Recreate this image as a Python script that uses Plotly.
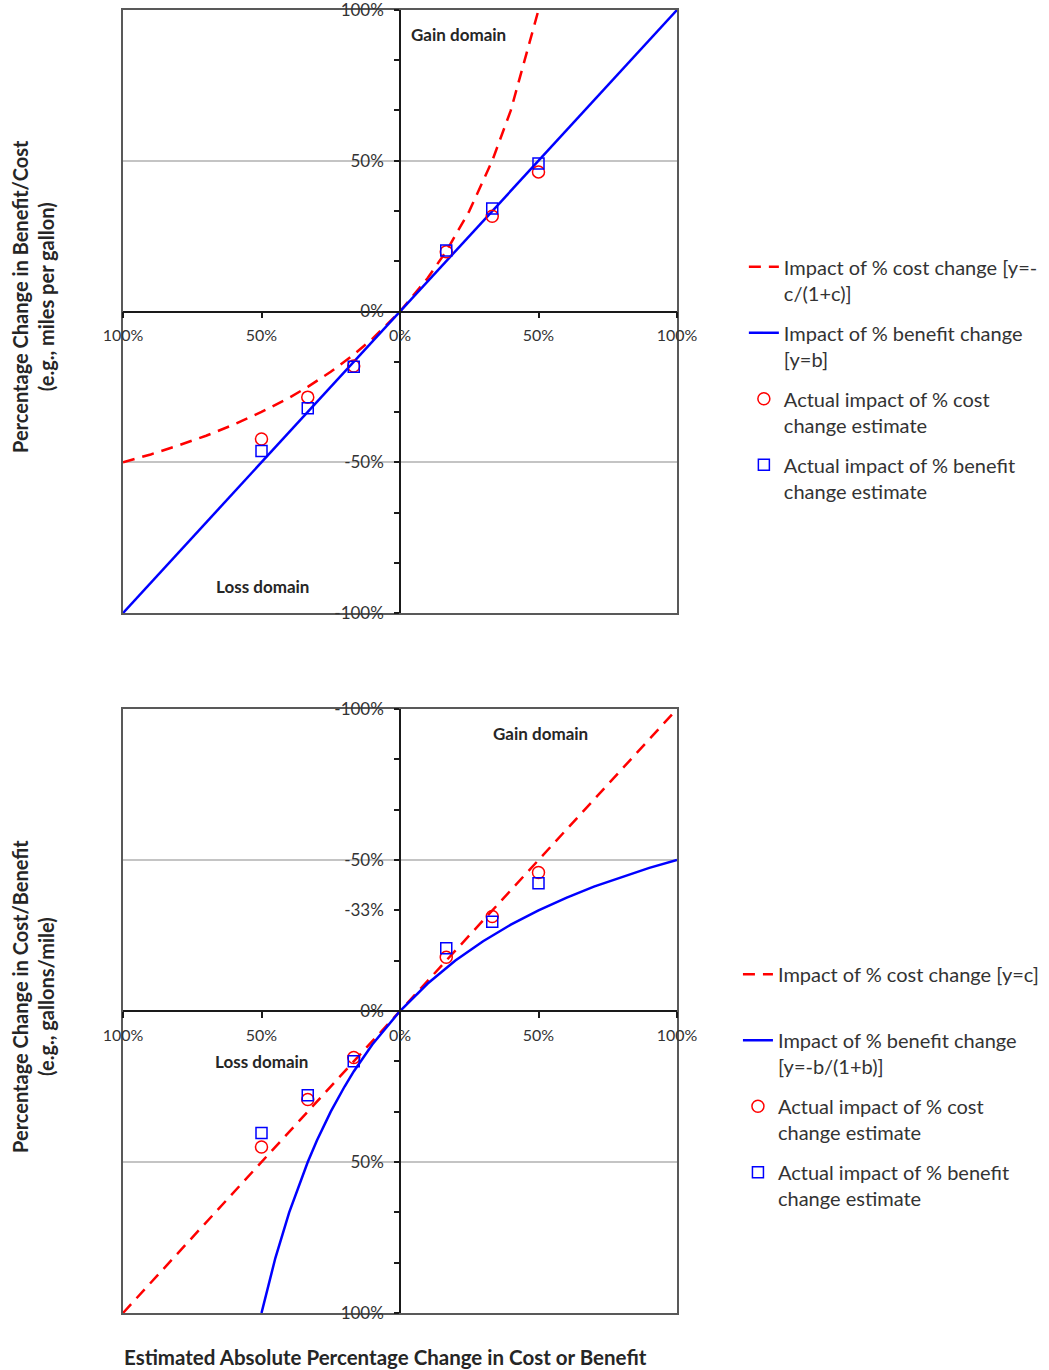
import plotly.graph_objects as go

# ---------------- data ----------------
x_tick_vals = [-1.0, -0.5, 0.0, 0.5, 1.0]
x_tick_text = ["100%", "50%", "0%", "50%", "100%"]

y_tick_vals = [-1.0, -0.8333, -0.6667, -0.5, -0.3333, -0.1667, 0.0,
               0.1667, 0.3333, 0.5, 0.6667, 0.8333, 1.0]
top_y_tick_text = ["-100%", "", "", "-50%", "", "", "0%", "", "", "50%", "", "", "100%"]
bot_y_tick_text = ["100%", "", "", "50%", "", "", "0%", "", "-33%", "-50%", "", "", "-100%"]

# top panel: cost curve y = -c/(1+c), benefit line y = b
top_cost_x = [-1.0, -0.9, -0.8, -0.7, -0.6, -0.5, -0.4, -0.333, -0.25, -0.167, -0.1,
              0.0, 0.1, 0.167, 0.25, 0.333, 0.4, 0.5]
top_cost_y = [-0.5, -0.474, -0.444, -0.412, -0.375, -0.333, -0.286, -0.25, -0.2, -0.143, -0.091,
              0.0, 0.111, 0.2, 0.333, 0.5, 0.667, 1.0]
top_benefit_x = [-1.0, -0.5, 0.0, 0.5, 1.0]
top_benefit_y = [-1.0, -0.5, 0.0, 0.5, 1.0]

est_x = [-0.5, -0.333, -0.167, 0.167, 0.333, 0.5]
top_cost_est_y = [-0.423, -0.284, -0.181, 0.198, 0.316, 0.463]
top_benefit_est_y = [-0.463, -0.321, -0.183, 0.202, 0.342, 0.491]

# bottom panel: cost line y = c, benefit curve y = -b/(1+b)
bot_cost_x = [-1.0, -0.5, 0.0, 0.5, 1.0]
bot_cost_y = [-1.0, -0.5, 0.0, 0.5, 1.0]
bot_benefit_x = [-0.5, -0.45, -0.4, -0.35, -0.333, -0.3, -0.25, -0.2, -0.167, -0.1, 0.0,
                 0.1, 0.167, 0.2, 0.3, 0.333, 0.4, 0.5, 0.6, 0.7, 0.8, 0.9, 1.0]
bot_benefit_y = [-1.0, -0.818, -0.667, -0.538, -0.5, -0.429, -0.333, -0.25, -0.2, -0.111, 0.0,
                 0.091, 0.143, 0.167, 0.231, 0.25, 0.286, 0.333, 0.375, 0.412, 0.444, 0.474, 0.5]
bot_cost_est_y = [-0.45, -0.293, -0.154, 0.178, 0.313, 0.459]
bot_benefit_est_y = [-0.404, -0.279, -0.166, 0.208, 0.296, 0.423]

# ---------------- style ----------------
FONT = "Lato"
RED = "#FF0000"
BLUE = "#0000FF"
TXT = "#333333"
DASH = "12px,8px"

fig = go.Figure()

# top panel traces (legend)
fig.add_trace(go.Scatter(x=top_cost_x, y=top_cost_y, mode="lines", xaxis="x", yaxis="y",
                         line=dict(color=RED, width=2.5, dash=DASH), legendgroup="t1",
                         name="Impact of % cost change [y=-<br>c/(1+c)]", legend="legend"))
fig.add_trace(go.Scatter(x=top_benefit_x, y=top_benefit_y, mode="lines", xaxis="x", yaxis="y",
                         line=dict(color=BLUE, width=2.5), legendgroup="t2",
                         name="Impact of % benefit change<br>[y=b]", legend="legend"))
fig.add_trace(go.Scatter(x=est_x, y=top_cost_est_y, mode="markers", xaxis="x", yaxis="y",
                         marker=dict(symbol="circle-open", size=12, color=RED, line=dict(width=1.5)),
                         legendgroup="t3",
                         name="Actual impact of % cost<br>change estimate", legend="legend"))
fig.add_trace(go.Scatter(x=est_x, y=top_benefit_est_y, mode="markers", xaxis="x", yaxis="y",
                         marker=dict(symbol="square-open", size=11, color=BLUE, line=dict(width=1.5)),
                         legendgroup="t4",
                         name="Actual impact of % benefit<br>change estimate", legend="legend"))

# bottom panel traces (legend2)
fig.add_trace(go.Scatter(x=bot_cost_x, y=bot_cost_y, mode="lines", xaxis="x2", yaxis="y2",
                         line=dict(color=RED, width=2.5, dash=DASH), legendgroup="b1",
                         name="Impact of % cost change [y=c]<br> ", legend="legend2"))
fig.add_trace(go.Scatter(x=bot_benefit_x, y=bot_benefit_y, mode="lines", xaxis="x2", yaxis="y2",
                         line=dict(color=BLUE, width=2.5), legendgroup="b2",
                         name="Impact of % benefit change<br>[y=-b/(1+b)]", legend="legend2"))
fig.add_trace(go.Scatter(x=est_x, y=bot_cost_est_y, mode="markers", xaxis="x2", yaxis="y2",
                         marker=dict(symbol="circle-open", size=12, color=RED, line=dict(width=1.5)),
                         legendgroup="b3",
                         name="Actual impact of % cost<br>change estimate", legend="legend2"))
fig.add_trace(go.Scatter(x=est_x, y=bot_benefit_est_y, mode="markers", xaxis="x2", yaxis="y2",
                         marker=dict(symbol="square-open", size=11, color=BLUE, line=dict(width=1.5)),
                         legendgroup="b4",
                         name="Actual impact of % benefit<br>change estimate", legend="legend2"))

# empty traces so the centred (overlaying) axes get drawn
fig.add_trace(go.Scatter(x=[None], y=[None], xaxis="x3", yaxis="y3", showlegend=False,
                         hoverinfo="skip", mode="markers"))
fig.add_trace(go.Scatter(x=[None], y=[None], xaxis="x4", yaxis="y4", showlegend=False,
                         hoverinfo="skip", mode="markers"))

TOP_DOM = [0.5372, 1.0]
BOT_DOM = [0.0, 0.4635]

box_x = dict(range=[-1, 1], showline=True, mirror=True, linecolor="#595959", linewidth=2,
             ticks="", showticklabels=False, showgrid=False, zeroline=False, domain=[0, 1])
box_y = dict(range=[-1, 1], showline=True, mirror=True, linecolor="#595959", linewidth=2,
             ticks="", showticklabels=False, showgrid=True, gridcolor="#c4c4c4", gridwidth=2,
             tickvals=[-0.5, 0.5], zeroline=False)

center_x = dict(range=[-1, 1], anchor="free", showline=True, linecolor="#1a1a1a", linewidth=1.5,
                tickvals=x_tick_vals, ticktext=x_tick_text, ticks="outside", ticklen=6,
                tickcolor="#1a1a1a", tickwidth=1.5, showgrid=False, zeroline=False,
                ticklabeloverflow="allow",
                tickfont=dict(family=FONT, size=16, color=TXT), ticklabelstandoff=4)
center_y = dict(range=[-1, 1], anchor="free", position=0.5, showline=True, linecolor="#1a1a1a",
                linewidth=1.5, tickvals=y_tick_vals, ticks="outside", ticklen=5,
                tickcolor="#1a1a1a", tickwidth=1.5, showgrid=False, zeroline=False,
                ticklabeloverflow="allow",
                tickfont=dict(family=FONT, size=17, color=TXT), ticklabelstandoff=7)

fig.update_layout(
    width=1049, height=1370,
    margin=dict(l=123, r=372, t=10, b=57, autoexpand=False),
    paper_bgcolor="white", plot_bgcolor="rgba(0,0,0,0)",
    font=dict(family=FONT, color=TXT),
    xaxis=dict(**box_x, anchor="y"),
    yaxis=dict(**box_y, anchor="x", domain=TOP_DOM),
    xaxis2=dict(**box_x, anchor="y2"),
    yaxis2=dict(**box_y, anchor="x2", domain=BOT_DOM),
    xaxis3=dict(**center_x, overlaying="x", position=(TOP_DOM[0] + TOP_DOM[1]) / 2),
    yaxis3=dict(**center_y, overlaying="y", ticktext=top_y_tick_text),
    xaxis4=dict(**center_x, overlaying="x2", position=(BOT_DOM[0] + BOT_DOM[1]) / 2),
    yaxis4=dict(**center_y, overlaying="y2", ticktext=bot_y_tick_text),
    showlegend=True,
    legend=dict(x=1.1207, y=0.8179, xanchor="left", yanchor="top", valign="top",
                font=dict(family=FONT, size=20, color="#333333"), tracegroupgap=11,
                bgcolor="rgba(0,0,0,0)"),
    legend2=dict(x=1.110, y=0.275, xanchor="left", yanchor="top", valign="top",
                 font=dict(family=FONT, size=20, color="#333333"), tracegroupgap=11,
                 bgcolor="rgba(0,0,0,0)"),
)

ann_font = dict(family=FONT, size=17, color="#262626")
fig.add_annotation(text="<b>Gain domain</b>", x=0.21, y=0.92, xref="x", yref="y",
                   showarrow=False, font=ann_font)
fig.add_annotation(text="<b>Loss domain</b>", x=-0.495, y=-0.912, xref="x", yref="y",
                   showarrow=False, font=ann_font)
fig.add_annotation(text="<b>Gain domain</b>", x=0.508, y=0.92, xref="x2", yref="y2",
                   showarrow=False, font=ann_font)
fig.add_annotation(text="<b>Loss domain</b>", x=-0.5, y=-0.166, xref="x2", yref="y2",
                   showarrow=False, font=ann_font)

title_font = dict(family=FONT, size=20, color="#262626")
fig.add_annotation(text="<b>Percentage Change in Benefit/Cost<br>(e.g., miles per gallon)</b>",
                   x=-0.1625, y=0.7805, xref="paper", yref="paper", textangle=-90,
                   xanchor="center", yanchor="middle", showarrow=False, font=title_font)
fig.add_annotation(text="<b>Percentage Change in Cost/Benefit<br>(e.g., gallons/mile)</b>",
                   x=-0.1625, y=0.2433, xref="paper", yref="paper", textangle=-90,
                   xanchor="center", yanchor="middle", showarrow=False, font=title_font)
fig.add_annotation(text="<b>Estimated Absolute Percentage Change in Cost or Benefit</b>",
                   x=-0.002, y=-0.0338, xref="paper", yref="paper", xanchor="left",
                   yanchor="middle", showarrow=False,
                   font=dict(family=FONT, size=20.5, color="#262626"))

# remove the default 8px page margin so the figure sits at the window's top-left corner
fig.write_html("out.html", config={"displayModeBar": False},
               post_script="document.body.style.margin='0';")
